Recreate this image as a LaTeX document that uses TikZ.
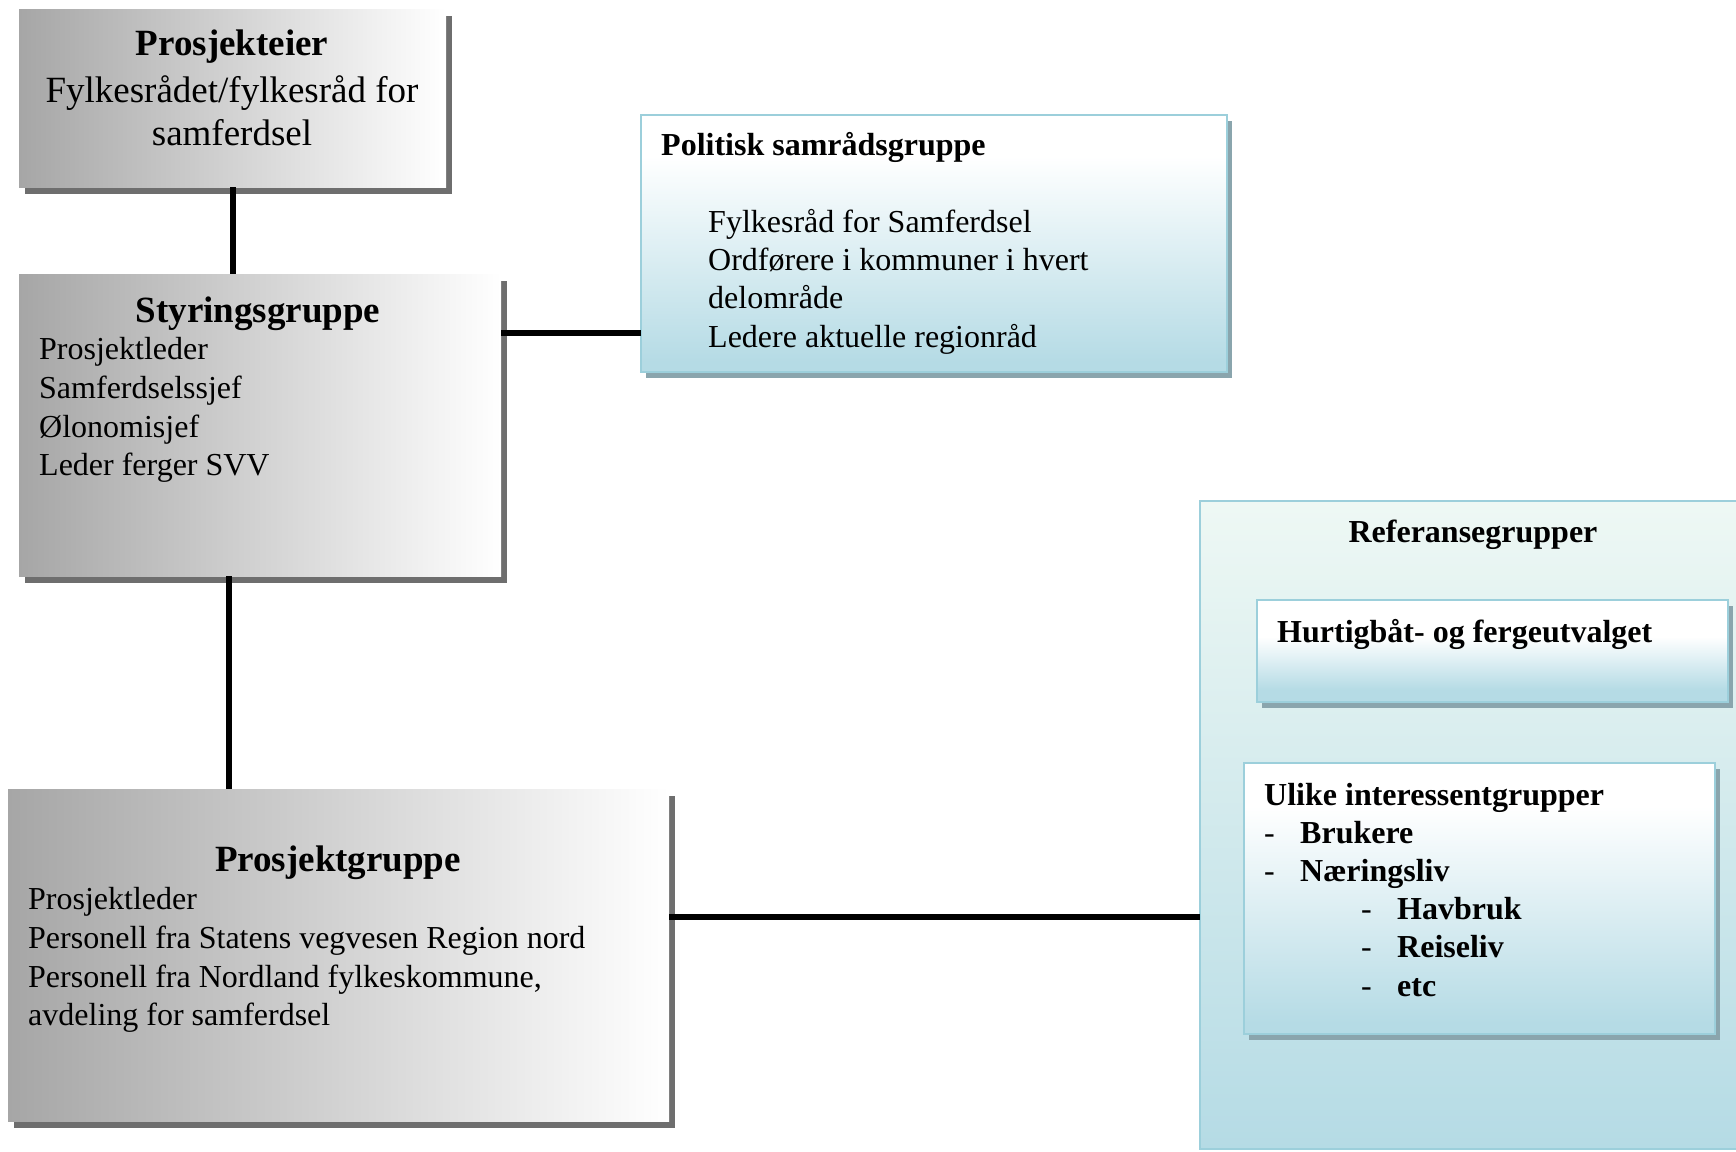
\documentclass[tikz,border=0pt]{standalone}
\usepackage{fontspec}
\setmainfont{Liberation Serif}
\usetikzlibrary{shadows}
\definecolor{grayL}{HTML}{A6A6A6}
\definecolor{shadowgray}{HTML}{6E6E6E}
\definecolor{bordblue}{HTML}{9CCFDB}
\definecolor{lbB}{HTML}{B5DBE5}
\definecolor{shadowblue}{HTML}{8AA5AD}
\definecolor{mint}{HTML}{EEF8F4}
\definecolor{refblue}{HTML}{B5DBE5}
\pgfdeclareverticalshading{bluefadeA}{100bp}{color(0bp)=(lbB); color(27bp)=(lbB); color(67bp)=(white); color(100bp)=(white)}
\pgfdeclareverticalshading{bluefadeB}{100bp}{color(0bp)=(lbB); color(31bp)=(lbB); color(57bp)=(white); color(100bp)=(white)}
\tikzset{
  graybox/.style={rectangle, inner sep=0pt, outer sep=0pt, anchor=north west,
    left color=grayL, right color=white,
    drop shadow={shadow xshift=6pt, shadow yshift=-7pt, fill=shadowgray, opacity=1}},
  bluebox/.style={rectangle, inner sep=0pt, outer sep=0pt, anchor=north west,
    draw=bordblue, line width=2.5pt, shade, shading=#1,
    drop shadow={shadow xshift=5pt, shadow yshift=-6pt, fill=shadowblue, opacity=1}},
  refbox/.style={rectangle, inner sep=0pt, outer sep=0pt, anchor=north west,
    draw=bordblue, line width=2.5pt, top color=mint, bottom color=refblue},
  conn/.style={line width=6pt, black},
  bigtitle/.style={inner sep=0pt, anchor=base, font=\fontsize{37}{44}\selectfont\bfseries},
  bigbody/.style={inner sep=0pt, anchor=base, font=\fontsize{37}{44}\selectfont},
  body/.style={inner sep=0pt, anchor=base west, font=\fontsize{32}{38}\selectfont},
  btitle/.style={inner sep=0pt, anchor=base west, font=\fontsize{32}{38}\selectfont\bfseries},
}
\begin{document}
\begin{tikzpicture}[x=1pt,y=-1pt]
\useasboundingbox (0,0) rectangle (1736,1151);
\fill[white] (0,0) rectangle (1736,1151);

% boxes
\node[graybox, minimum width=427pt, minimum height=178pt] (pe) at (19,9) {};
\node[graybox, minimum width=482pt, minimum height=302pt] (st) at (19,274) {};
\node[graybox, minimum width=661pt, minimum height=332pt] (pg) at (8,789) {};
\node[bluebox=bluefadeA, minimum width=586pt, minimum height=257pt] (pol) at (641,115) {};
\node[refbox, minimum width=560pt, minimum height=648pt] (ref) at (1200,501) {};
\node[bluebox=bluefadeB, minimum width=471pt, minimum height=102pt] (hb) at (1257,600) {};
\node[bluebox=bluefadeA, minimum width=471pt, minimum height=271pt] (ul) at (1244,763) {};

% connectors
\coordinate (x1) at (233,0);
\coordinate (x2) at (229,0);
\coordinate (y1) at (0,333);
\coordinate (y2) at (0,917);
\draw[conn] (pe.south -| x1) -- (st.north -| x1);
\draw[conn] (st.east |- y1) -- (pol.west |- y1);
\draw[conn] (st.south -| x2) -- (pg.north -| x2);
\draw[conn] (pg.east |- y2) -- (ref.west |- y2);

% Prosjekteier
\node[bigtitle] (pe-t) at (232,55) {Prosjekteier};
\node[bigbody] (pe-1) at (232,102) {Fylkesrådet/fylkesråd for};
\node[bigbody] (pe-2) at (232,145) {samferdsel};

% Styringsgruppe
\node[bigtitle] (st-t) at (258,322) {Styringsgruppe};
\node[body] (st-1) at (39,359) {Prosjektleder};
\node[body] (st-2) at (39,398) {Samferdselssjef};
\node[body] (st-3) at (39,437) {Ølonomisjef};
\node[body] (st-4) at (39,475) {Leder ferger SVV};

% Politisk samrådsgruppe
\node[btitle] (pol-t) at (661,155) {Politisk samrådsgruppe};
\node[body] (pol-1) at (708,232) {Fylkesråd for Samferdsel};
\node[body] (pol-2) at (708,270) {Ordførere i kommuner i hvert};
\node[body] (pol-3) at (708,308) {delområde};
\node[body] (pol-4) at (708,347) {Ledere aktuelle regionråd};

% Prosjektgruppe
\node[bigtitle] (pg-t) at (338,871) {Prosjektgruppe};
\node[body] (pg-1) at (28,909) {Prosjektleder};
\node[body] (pg-2) at (28,948) {Personell fra Statens vegvesen Region nord};
\node[body] (pg-3) at (28,987) {Personell fra Nordland fylkeskommune,};
\node[body] (pg-4) at (28,1025) {avdeling for samferdsel};

% Referansegrupper
\node[btitle, anchor=base] (ref-t) at (1473,542) {Referansegrupper};
\node[btitle] (hb-t) at (1277,642) {Hurtigbåt- og fergeutvalget};
\node[btitle] (ul-t) at (1264,805) {Ulike interessentgrupper};
\node[body] (ul-d1) at (1264,843) {-};
\node[btitle] (ul-1) at (1300,843) {Brukere};
\node[body] (ul-d2) at (1264,881) {-};
\node[btitle] (ul-2) at (1300,881) {Næringsliv};
\node[body] (ul-d3) at (1361,919) {-};
\node[btitle] (ul-3) at (1397,919) {Havbruk};
\node[body] (ul-d4) at (1361,957) {-};
\node[btitle] (ul-4) at (1397,957) {Reiseliv};
\node[body] (ul-d5) at (1361,996) {-};
\node[btitle] (ul-5) at (1397,996) {etc};
\end{tikzpicture}
\end{document}
